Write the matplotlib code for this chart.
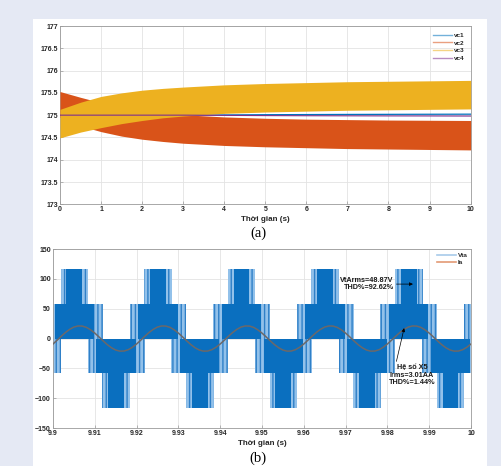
import matplotlib
matplotlib.use("Agg")
import matplotlib.pyplot as plt
import numpy as np
from matplotlib.patches import Rectangle
from matplotlib.lines import Line2D

# ---------------- data: panel (a) capacitor voltages ----------------
t_a = [0, 0.5, 1, 1.5, 2, 2.5, 3, 4, 5, 6, 7, 8, 9, 10]
vc2_low = [174.95, 174.76, 174.63, 174.53, 174.46, 174.41, 174.37, 174.32, 174.29, 174.27, 174.25, 174.24, 174.23, 174.22]
vc2_high = [175.53, 175.40, 175.28, 175.19, 175.12, 175.06, 175.01, 174.96, 174.93, 174.91, 174.90, 174.89, 174.885, 174.88]
vc3_low = [174.49, 174.62, 174.72, 174.81, 174.88, 174.94, 174.98, 175.04, 175.07, 175.09, 175.11, 175.12, 175.13, 175.14]
vc3_high = [175.13, 175.29, 175.42, 175.50, 175.56, 175.60, 175.63, 175.68, 175.71, 175.73, 175.75, 175.76, 175.77, 175.78]
vc1 = [175.0, 175.0, 175.0, 175.0, 175.0, 175.0, 175.0, 175.005, 175.01, 175.013, 175.016, 175.018, 175.02, 175.022]
vc4 = [175.0, 175.0, 175.0, 175.0, 175.0, 175.0, 175.0, 174.995, 174.99, 174.987, 174.985, 174.983, 174.982, 174.98]

# ---------------- data: panel (b) output voltage / current ----------------
pos_centres = [9.9051, 9.9251, 9.9451, 9.9651, 9.9851, 10.0051]
neg_centres = [9.8951, 9.9151, 9.9351, 9.9551, 9.9751, 9.9951]
level1, level2 = 58, 116
l1_dark_hw, l1_light_hw = 0.0047, 0.0068
l2_dark_hw, l2_light_hw = 0.0019, 0.0033

t_ia_start, t_ia_step = 9.9, 0.001
ia = [-9.1, -2.7, 4.0, 10.3, 15.5, 19.3, 21.1, 20.9, 18.7, 14.6, 9.1, 2.7, -4.0, -10.3, -15.5, -19.3, -21.1, -20.9, -18.7, -14.6,
      -9.1, -2.7, 4.0, 10.3, 15.5, 19.3, 21.1, 20.9, 18.7, 14.6, 9.1, 2.7, -4.0, -10.3, -15.5, -19.3, -21.1, -20.9, -18.7, -14.6,
      -9.1, -2.7, 4.0, 10.3, 15.5, 19.3, 21.1, 20.9, 18.7, 14.6, 9.1, 2.7, -4.0, -10.3, -15.5, -19.3, -21.1, -20.9, -18.7, -14.6,
      -9.1, -2.7, 4.0, 10.3, 15.5, 19.3, 21.1, 20.9, 18.7, 14.6, 9.1, 2.7, -4.0, -10.3, -15.5, -19.3, -21.1, -20.9, -18.7, -14.6,
      -9.1, -2.7, 4.0, 10.3, 15.5, 19.3, 21.1, 20.9, 18.7, 14.6, 9.1, 2.7, -4.0, -10.3, -15.5, -19.3, -21.1, -20.9, -18.7, -14.6,
      -9.1]

xticks_a = list(range(0, 11))
yticks_a = [173, 173.5, 174, 174.5, 175, 175.5, 176, 176.5, 177]
yticklabels_a = ["173", "173.5", "174", "174.5", "175", "175.5", "176", "176.5", "177"]
xticks_b = [9.9, 9.91, 9.92, 9.93, 9.94, 9.95, 9.96, 9.97, 9.98, 9.99, 10.0]
xticklabels_b = ["9.9", "9.91", "9.92", "9.93", "9.94", "9.95", "9.96", "9.97", "9.98", "9.99", "10"]
yticks_b = [-150, -100, -50, 0, 50, 100, 150]

# ---------------- style ----------------
plt.rcParams['font.family'] = ['Liberation Sans', 'DejaVu Sans']
plt.rcParams['hatch.linewidth'] = 1.0
C1, C2, C3, C4 = '#0072BD', '#D95319', '#EDB120', '#7E2F8E'
DARK = '#0a6fbf'
LIGHT = '#92c1ea'
HATCHC = '#2f80c8'
TICKC = '#262626'
GRIDC = '#e3e3e3'
SPINEC = '#9a9a9a'

fig = plt.figure(figsize=(5.02, 4.66), dpi=100, facecolor='#e5e9f4')
fig.patches.append(Rectangle((33 / 502, 0), (487 - 33) / 502, (466 - 19) / 466,
                             transform=fig.transFigure, facecolor='white',
                             edgecolor='none', zorder=-10))

def style_axes(ax):
    ax.set_facecolor('white')
    ax.grid(True, color=GRIDC, lw=0.6)
    ax.set_axisbelow(True)
    for s in ax.spines.values():
        s.set_color(SPINEC)
        s.set_linewidth(0.6)
    ax.tick_params(direction='in', length=2, width=0.5, color=SPINEC,
                   labelsize=5.0, labelcolor=TICKC, pad=1.5)
    for lab in ax.get_xticklabels() + ax.get_yticklabels():
        lab.set_fontweight('bold')

# ---------------- panel (a) ----------------
ax1 = fig.add_axes([0.1195, 0.5616, 0.818, 0.3826])
ax1.plot(t_a, vc1, color=C1, lw=0.9, zorder=2)
ax1.fill_between(t_a, vc2_low, vc2_high, color=C2, lw=0, zorder=3)
ax1.fill_between(t_a, vc3_low, vc3_high, color=C3, lw=0, zorder=4)
ax1.plot(t_a, vc4, color=C4, lw=0.8, zorder=5)
ax1.set_xlim(0, 10)
ax1.set_ylim(173, 177)
ax1.set_xticks(xticks_a)
ax1.set_yticks(yticks_a)
ax1.set_yticklabels(yticklabels_a)
style_axes(ax1)
ax1.set_xlabel('Thời gian (s)', fontsize=5.8, fontweight='bold', color=TICKC, labelpad=2)
h_a = [Line2D([], [], color=c, lw=1.0, alpha=0.55) for c in (C1, C2, C3, C4)]
leg1 = ax1.legend(h_a, ['vc1', 'vc2', 'vc3', 'vc4'], loc='upper right', fontsize=4.6,
                  frameon=False, handlelength=3.0, handletextpad=0.3,
                  labelspacing=0.35, borderaxespad=0.6)
for txt in leg1.get_texts():
    txt.set_fontweight('bold')
    txt.set_color(TICKC)

fig.text(258 / 502, 1 - 233 / 466, '(a)', ha='center', va='center',
         fontsize=10.5, family='Liberation Serif', color='black')

# ---------------- panel (b) ----------------
ax2 = fig.add_axes([0.1056, 0.0815, 0.8327, 0.384])

for centres, sign in ((pos_centres, 1), (neg_centres, -1)):
    for c in centres:
        for a, b in ((c - l1_light_hw, c - l1_dark_hw), (c + l1_dark_hw, c + l1_light_hw)):
            ax2.fill_between([a, b], 0, sign * level1, facecolor=LIGHT, edgecolor=HATCHC,
                             hatch='||||', lw=0, zorder=2)
for centres, sign in ((pos_centres, 1), (neg_centres, -1)):
    for c in centres:
        ax2.fill_between([c - l1_dark_hw, c + l1_dark_hw], 0, sign * level1,
                         color=DARK, lw=0, zorder=3)
        for a, b in ((c - l2_light_hw, c - l2_dark_hw), (c + l2_dark_hw, c + l2_light_hw)):
            ax2.fill_between([a, b], sign * level1, sign * level2, facecolor=LIGHT,
                             edgecolor=HATCHC, hatch='||||', lw=0, zorder=4)
        ax2.fill_between([c - l2_dark_hw, c + l2_dark_hw], sign * level1, sign * level2,
                         color=DARK, lw=0, zorder=5)

t_ia = [t_ia_start + k * t_ia_step for k in range(len(ia))]
ax2.plot(t_ia, ia, color='#6c6868', lw=1.1, zorder=6)

ax2.set_xlim(9.9, 10.0)
ax2.set_ylim(-150, 150)
ax2.set_xticks(xticks_b)
ax2.set_xticklabels(xticklabels_b)
ax2.set_yticks(yticks_b)
style_axes(ax2)
ax2.set_xlabel('Thời gian (s)', fontsize=5.8, fontweight='bold', color=TICKC, labelpad=2)

h_b = [Line2D([], [], color='#a8cbea', lw=1.2), Line2D([], [], color='#e39a74', lw=1.2)]
leg2 = ax2.legend(h_b, ['Vta', 'Ia'], loc='upper right', fontsize=4.6, frameon=True,
                  facecolor='white', edgecolor='none', framealpha=1,
                  handlelength=3.0, handletextpad=0.3, labelspacing=0.3,
                  borderaxespad=0.2, borderpad=0.3)
for txt in leg2.get_texts():
    txt.set_fontweight('bold')
    txt.set_color(TICKC)

ax2.annotate('VtArms=48.87V\nTHD%=92.62%', xy=(9.9861, 91.3), xytext=(9.9751, 91.3),
             ha='center', va='center', multialignment='right', fontsize=5.2,
             fontweight='bold', color='#1a1a1a', linespacing=1.1, zorder=8,
             arrowprops=dict(arrowstyle='-|>', color='black', lw=0.5, mutation_scale=5,
                             shrinkA=0, shrinkB=0, relpos=(1.0, 0.5)))
ax2.annotate('Hệ số X5\nIrms=3.01AA\nTHD%=1.44%', xy=(9.9840, 17.5), xytext=(9.9859, -61.4),
             ha='center', va='center', multialignment='center', fontsize=5.2,
             fontweight='bold', color='#1a1a1a', linespacing=1.1, zorder=8,
             arrowprops=dict(arrowstyle='-|>', color='black', lw=0.5, mutation_scale=5,
                             shrinkA=0, shrinkB=0, relpos=(0.15, 1.0)))

fig.text(258 / 502, 1 - 458 / 466, '(b)', ha='center', va='center',
         fontsize=10.5, family='Liberation Serif', color='black')

fig.savefig('out.png', dpi=100, facecolor=fig.get_facecolor())
